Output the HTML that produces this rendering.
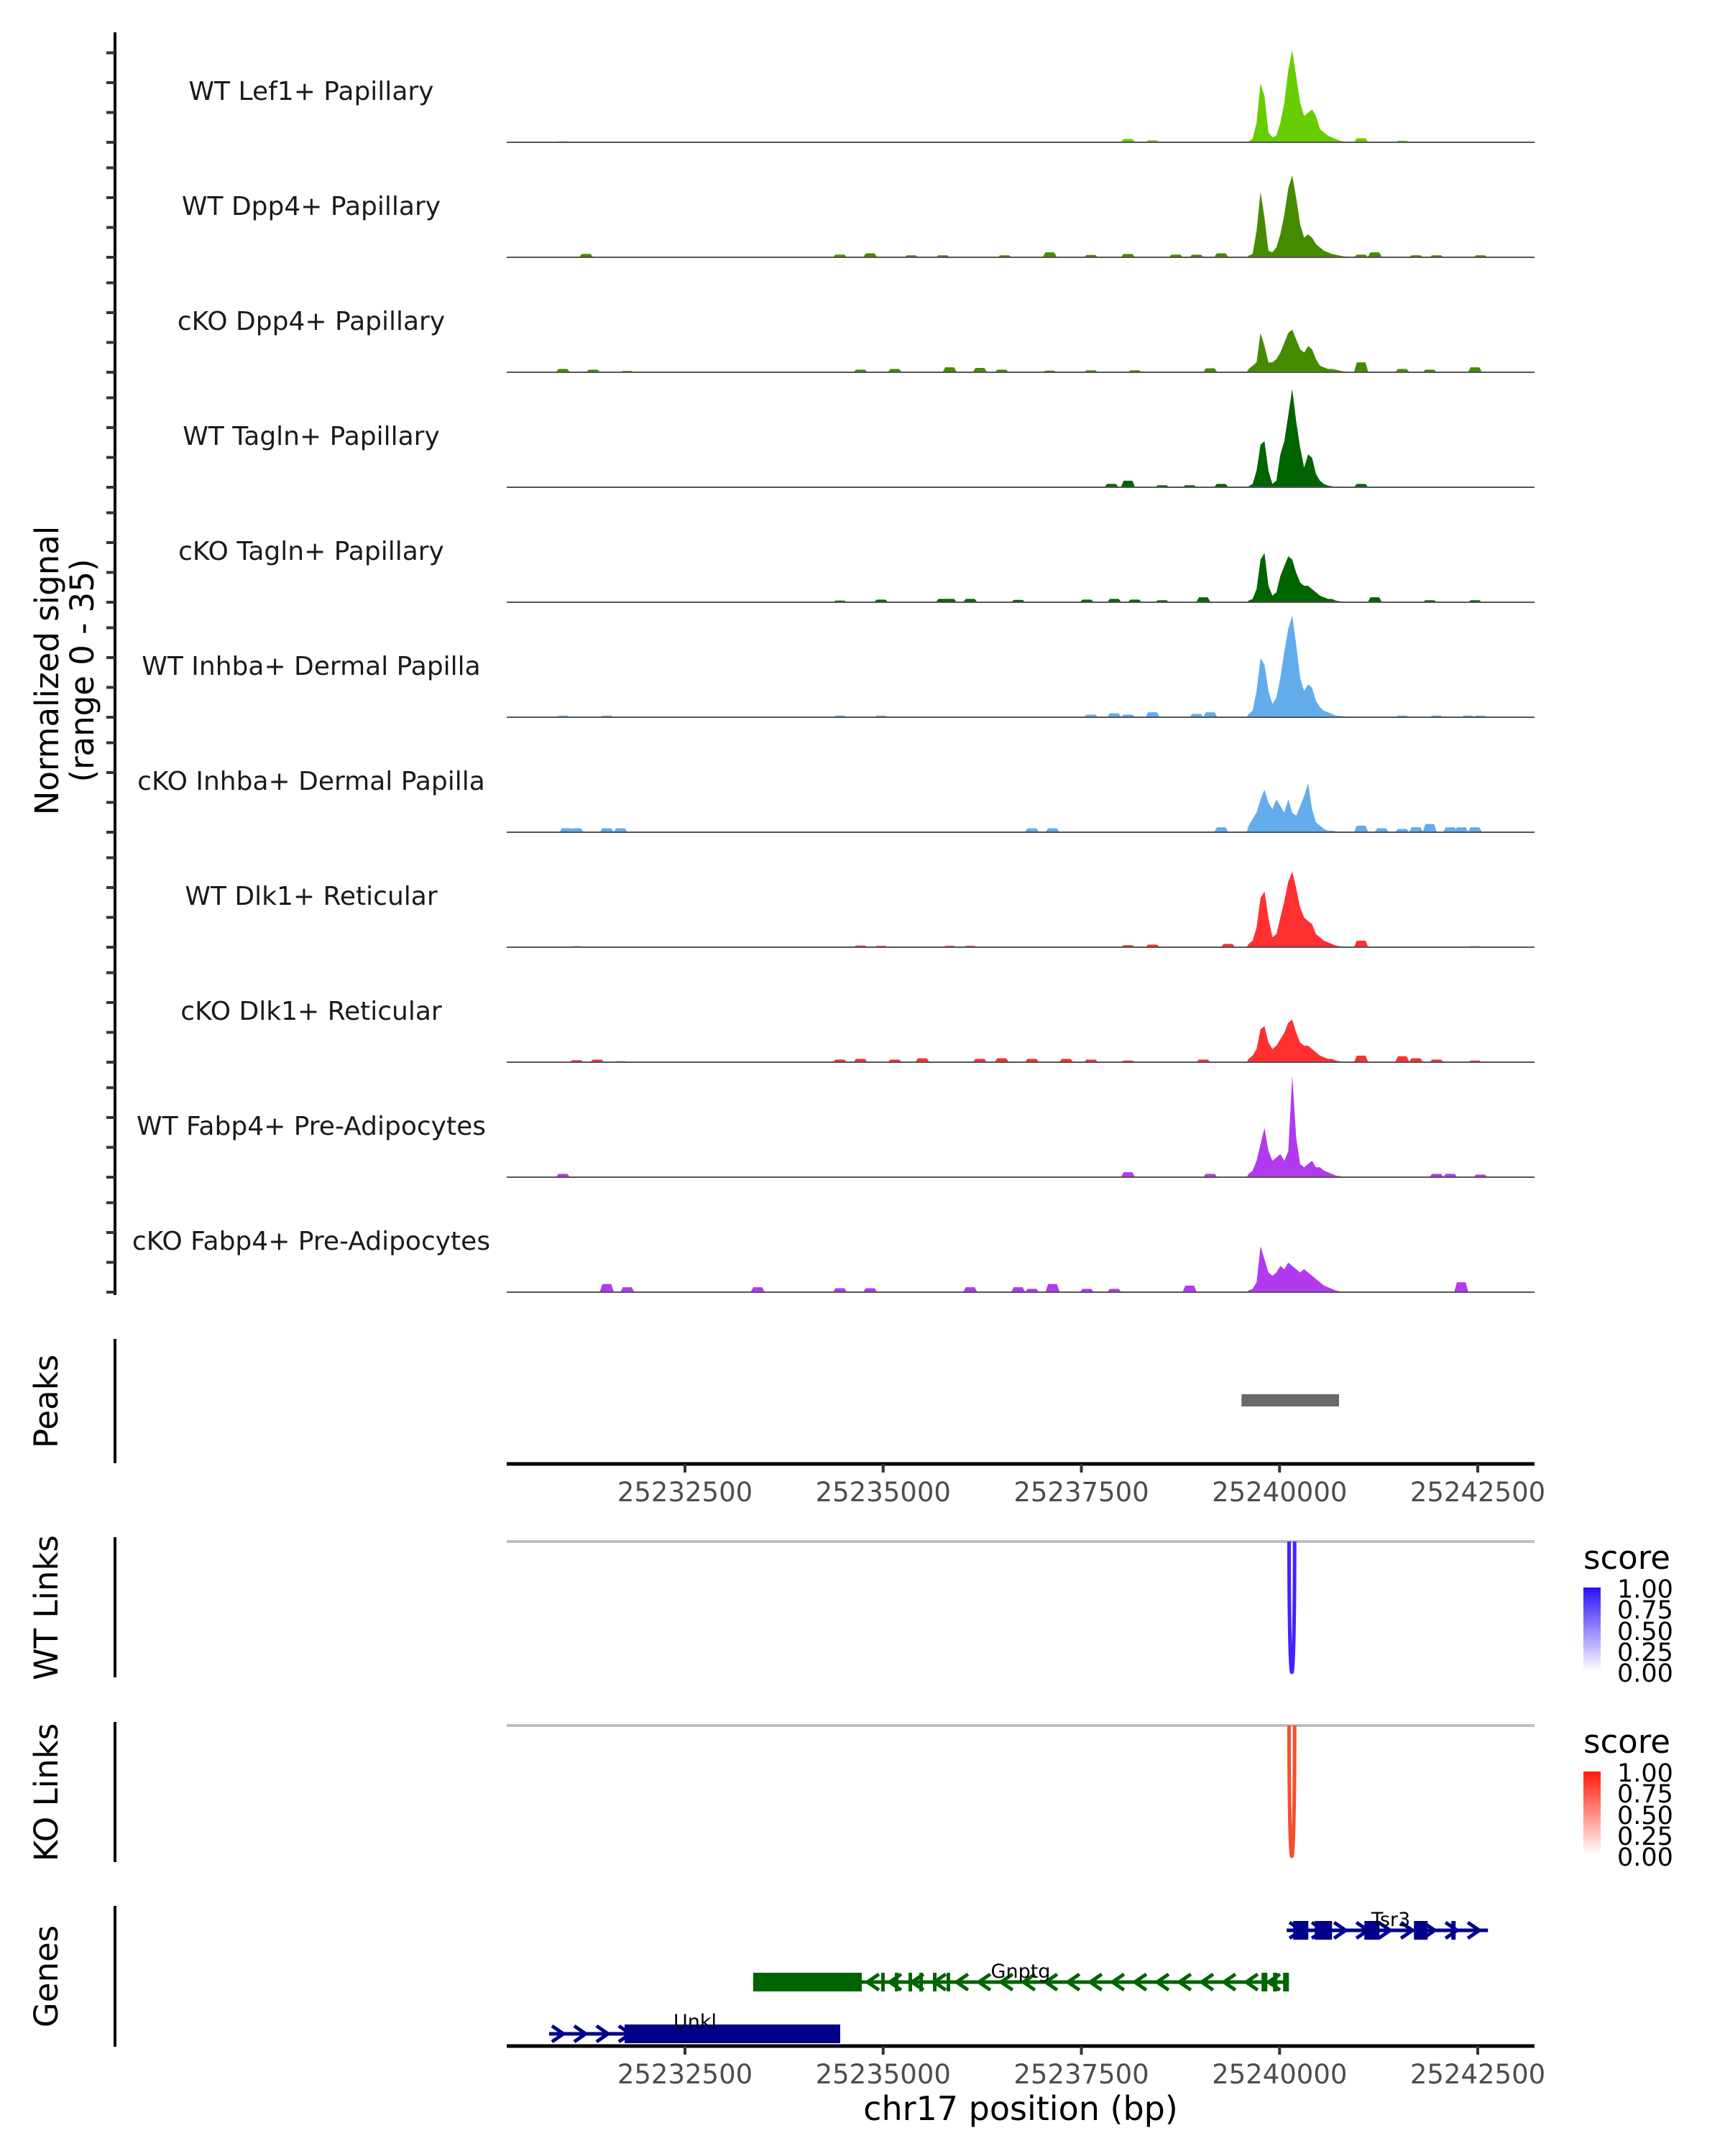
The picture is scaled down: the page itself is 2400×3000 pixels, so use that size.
<!DOCTYPE html>
<html><head><meta charset="utf-8"><style>
html,body{margin:0;padding:0;background:#fff;}
svg{display:block;}
text{font-family:"DejaVu Sans","Liberation Sans",sans-serif;}
</style></head><body>
<svg id="chart" xmlns="http://www.w3.org/2000/svg" width="2400" height="3000" viewBox="0 0 2400 3000">
<defs>
<linearGradient id="gBlue" x1="0" y1="1" x2="0" y2="0"><stop offset="0" stop-color="#ffffff"/><stop offset="1" stop-color="#2a10f5"/></linearGradient>
<linearGradient id="gRed" x1="0" y1="1" x2="0" y2="0"><stop offset="0" stop-color="#ffffff"/><stop offset="1" stop-color="#ff1a08"/></linearGradient>
</defs>
<g id="tracks"></g>
<g id="axes"></g>
<text transform="translate(81,933) rotate(-90)" text-anchor="middle" font-size="45" fill="#000">Normalized signal</text>
<text transform="translate(130,933) rotate(-90)" text-anchor="middle" font-size="45" fill="#000">(range 0 - 35)</text>
<text transform="translate(80,1950) rotate(-90)" text-anchor="middle" font-size="45">Peaks</text>
<text transform="translate(80,2237) rotate(-90)" text-anchor="middle" font-size="45">WT Links</text>
<text transform="translate(80,2494) rotate(-90)" text-anchor="middle" font-size="45">KO Links</text>
<text transform="translate(80,2750) rotate(-90)" text-anchor="middle" font-size="45">Genes</text>
<text x="1420" y="2950" text-anchor="middle" font-size="46">chr17 position (bp)</text>
<g>
<text x="2203" y="2183" font-size="45">score</text>
<rect x="2203" y="2209" width="24" height="116" fill="url(#gBlue)"/>
<text x="2250" y="2223" font-size="35">1.00</text><text x="2250" y="2252" font-size="35">0.75</text><text x="2250" y="2282" font-size="35">0.50</text><text x="2250" y="2311" font-size="35">0.25</text><text x="2250" y="2340" font-size="35">0.00</text>
</g>
<g>
<text x="2203" y="2439" font-size="45">score</text>
<rect x="2203" y="2465" width="24" height="116" fill="url(#gRed)"/>
<text x="2250" y="2479" font-size="35">1.00</text><text x="2250" y="2508" font-size="35">0.75</text><text x="2250" y="2538" font-size="35">0.50</text><text x="2250" y="2567" font-size="35">0.25</text><text x="2250" y="2596" font-size="35">0.00</text>
</g>
</svg>
<script>
const trackNames = ["WT Lef1+ Papillary","WT Dpp4+ Papillary","cKO Dpp4+ Papillary","WT Tagln+ Papillary","cKO Tagln+ Papillary","WT Inhba+ Dermal Papilla","cKO Inhba+ Dermal Papilla","WT Dlk1+ Reticular","cKO Dlk1+ Reticular","WT Fabp4+ Pre-Adipocytes","cKO Fabp4+ Pre-Adipocytes"];
const trackColors = ["#66cd00","#458b00","#458b00","#006400","#006400","#63acec","#63acec","#ff3030","#ff3030","#b23aee","#b23aee"];
const peakStart = 25239610;
const peakBin = 50;
const peakLef1 = [0.3,1,6,18,14,3,1.5,2,6,12,22,28,20,12,8,9,10,8,4,3,2,1.5,1,0.5,0.3,0.2];
const peakDpp4WT = [0.5,1,8,20,12,2,1.5,3,7,13,21,25,18,10,6,7,6,4,3,2,1.5,1,0.8,0.5,0.3,0.2];
const peakDpp4KO = [1,2,3,12,8,3,3,4,6,9,12,13,10,7,6,8,7,4,2,1.5,1,1,0.8,0.5,0.3,0.2];
const peakTaglnWT = [0.3,1,5,13,14,5,1,2,10,14,22,30,20,12,6,10,9,4,2,1,0.5,0.3,0,0,0,0];
const peakTaglnKO = [0.5,1,4,13,15,5,2,3,8,11,14,13,9,6,5,5,4,3,2,1.5,1,1,0.5,0.3,0.2,0.1];
const peakInhbaWT = [1,2,8,18,16,8,4,6,12,20,27,31,22,12,8,10,9,5,3,2,1.5,1,0.5,0.4,0.3,0.2];
const peakInhbaKO = [2,4,6,10,13,9,7,10,8,6,10,6,5,8,11,15,7,3,2,1,0.5,0.5,0.3,0,0,0];
const peakDlk1WT = [1,2,6,15,17,9,3,4,9,14,20,23,18,12,9,8,7,4,3,2,1.5,1,0.5,0.3,0.2,0.1];
const peakDlk1KO = [1,2,4,10,11,6,4,5,7,9,12,13,9,6,5,5,4,3,2,1.5,1,1,0.5,0.3,0.2,0.1];
const peakFabp4WT = [1,2,5,10,15,8,5,6,7,5,8,31,12,4,3,4,5,3,3,2,1.5,1,0.5,0.3,0.2,0.1];
const peakFabp4KO = [0.5,1,3,14,10,6,5,6,8,7,9,8,7,6,7,6,5,4,3,2,1.5,1,0.5,0.3,0,0];
const bumpsLef1 = [[25230960,0.3],[25238088,1],[25238399,0.6],[25241029,1.2],[25241548,0.5]];
const bumpsDpp4WT = [[25231254,1],[25234455,0.8],[25234836,1.2],[25235355,0.6],[25235752,0.6],[25236531,0.6],[25237102,1.5],[25237621,0.7],[25238088,1],[25238693,0.8],[25238953,0.8],[25239264,1.2],[25241029,0.8],[25241202,1.5],[25241721,0.6],[25241980,0.6],[25242534,0.6]];
const bumpsDpp4KO = [[25230960,1],[25231341,0.8],[25231773,0.4],[25234714,0.8],[25235147,1],[25235839,1.5],[25236220,1.3],[25236496,0.8],[25237102,0.5],[25237621,0.6],[25238174,0.6],[25239126,1.2],[25241029,3],[25241548,1],[25241894,0.8],[25242465,1.5]];
const bumpsTaglnWT = [[25237880,1],[25238088,2],[25238520,0.6],[25238866,0.6],[25239264,1],[25241029,1]];
const bumpsTaglnKO = [[25234455,0.5],[25234974,0.8],[25235752,1],[25235839,1],[25236098,1],[25236704,0.7],[25237569,0.8],[25237915,1],[25238174,0.8],[25238520,0.6],[25239039,1.5],[25241202,1.5],[25241894,0.6],[25242465,0.6]];
const bumpsInhbaWT = [[25230960,0.5],[25231514,0.5],[25234455,0.5],[25234974,0.5],[25237621,0.8],[25237915,1.2],[25238088,0.8],[25238399,1.5],[25238953,1],[25239126,1.5],[25241548,0.5],[25241980,0.5],[25242378,0.5],[25242534,0.5]];
const bumpsInhbaKO = [[25231005,1.2],[25231133,1.2],[25231514,1.2],[25231687,1.2],[25236877,1.2],[25237136,1.2],[25239264,1.5],[25241029,2],[25241288,1.2],[25241548,1],[25241721,1.5],[25241894,2.5],[25242153,1.5],[25242292,1.5],[25242465,1.5]];
const bumpsDlk1WT = [[25231133,0.3],[25234714,0.5],[25234974,0.4],[25235839,0.4],[25236098,0.4],[25238088,0.6],[25238399,0.8],[25239351,1],[25241029,2],[25242465,0.3]];
const bumpsDlk1KO = [[25231133,0.6],[25231393,0.8],[25231687,0.3],[25234455,0.8],[25234714,1],[25235147,0.8],[25235494,1.2],[25236220,1],[25236496,1.2],[25236877,1],[25237309,1],[25237621,0.8],[25238088,0.5],[25239039,0.8],[25241029,2],[25241548,1.8],[25241721,1.2],[25241980,0.8],[25242465,0.5]];
const bumpsFabp4WT = [[25230960,1],[25238088,1.5],[25239126,1],[25241980,1],[25242153,1],[25242534,0.8]];
const bumpsFabp4KO = [[25231514,2.5],[25231773,1.5],[25233417,1.5],[25234455,1.2],[25234836,1.2],[25236098,1.5],[25236704,1.5],[25236877,1],[25237136,2.5],[25237569,1],[25237915,1],[25238866,2],[25242292,3]];
const xTicks = [25232500,25235000,25237500,25240000,25242500];
const peakRegions = [[25239520,25240750]];
const wtLinks = [[25240120,25240190,1.0]];
const koLinks = [[25240120,25240190,1.0]];
const tsr3Exons = [[25240172,25240363],[25240444,25240662],[25241070,25241260],[25241695,25241868],[25242167,25242221]];
const tsr3Span = [25240090,25242629];
const gnptgExons = [[25233360,25234730],[25234975,25235020],[25235147,25235192],[25235320,25235365],[25235456,25235501],[25235628,25235673],[25235800,25235845],[25239773,25239846],[25239918,25239973],[25240045,25240118]];
const gnptgSpan = [25233360,25240118];
const unklExons = [[25231738,25234458]];
const unklSpan = [25230786,25234458];

const peaks = [peakLef1,peakDpp4WT,peakDpp4KO,peakTaglnWT,peakTaglnKO,peakInhbaWT,peakInhbaKO,peakDlk1WT,peakDlk1KO,peakFabp4WT,peakFabp4KO];
const bumps = [bumpsLef1,bumpsDpp4WT,bumpsDpp4KO,bumpsTaglnWT,bumpsTaglnKO,bumpsInhbaWT,bumpsInhbaKO,bumpsDlk1WT,bumpsDlk1KO,bumpsFabp4WT,bumpsFabp4KO];

const NS='http://www.w3.org/2000/svg';
const X0=705, X1=2135;
function x(bp){return 953+(bp-25232500)/2500*275.75;}
const unit=4.57;
function base(i){return 198+i*160;}
function y(i,v){return base(i)-v*unit;}
function mk(tag,attrs,parent){const e=document.createElementNS(NS,tag);for(const k in attrs)e.setAttribute(k,attrs[k]);parent.appendChild(e);return e;}
const T=document.getElementById('tracks'), A=document.getElementById('axes');

trackNames.forEach((name,i)=>{
  const g=mk('g',{},T);
  
  
  const lab=mk('text',{x:433,y:base(i)-59,'text-anchor':'middle','font-size':36,fill:'#1a1a1a'},g);
  lab.textContent=name;
  
  
  bumps[i].forEach(b=>{
    const p=mk('path',{d:`M${x(b[0]-90)},${base(i)} L${x(b[0]-55)},${y(i,b[1])} L${x(b[0]+55)},${y(i,b[1])} L${x(b[0]+90)},${base(i)} Z`,fill:trackColors[i]},g);
    
    
  });
  let d=`M${x(peakStart-25)},${base(i)}`;
  peaks[i].forEach((v,k)=>{d+=` L${x(peakStart+k*peakBin)},${y(i,v)}`;});
  d+=` L${x(peakStart+(peaks[i].length-1)*peakBin+25)},${base(i)} Z`;
  const pk=mk('path',{d:d,fill:trackColors[i]},g);
  
  
  const bl=mk('line',{x1:X0,x2:X1,y1:base(i),y2:base(i),stroke:'#555',"stroke-width":2},g);
  
  
});

mk('line',{x1:160,x2:160,y1:45,y2:1802,stroke:'#000','stroke-width':4},A);
for(let i=0;i<trackNames.length;i++){for(let k=0;k<4;k++){const yy=base(i)-k*41.5;mk('line',{x1:148,x2:160,y1:yy,y2:yy,stroke:'#333','stroke-width':4},A);}}
[[1863,2036],[2139,2334],[2396,2591],[2652,2848]].forEach(s=>mk('line',{x1:160,x2:160,y1:s[0],y2:s[1],stroke:'#000','stroke-width':4},A));

peakRegions.forEach(r=>{const e=mk('rect',{x:x(r[0]),y:1940,width:x(r[1])-x(r[0]),height:17,fill:'#696969'},A);
  
  });

[2037,2847].forEach((ay,j)=>{
  mk('line',{x1:X0,x2:X1,y1:ay,y2:ay,stroke:'#000','stroke-width':5},A);
  xTicks.forEach(t=>{
    mk('line',{x1:x(t),x2:x(t),y1:ay,y2:ay+12,stroke:'#333','stroke-width':4},A);
    const tl=mk('text',{x:x(t),y:ay+52,'text-anchor':'middle','font-size':37,fill:'#4d4d4d'},A);
    tl.textContent=t;
    
    
  });
});

function drawLinks(links,top,bottom,color){
  mk('line',{x1:X0,x2:X1,y1:top,y2:top,stroke:'#bebebe','stroke-width':4},A);
  links.forEach(l=>{
    const xa=x(l[0]),xb=x(l[1]),yb=top+(bottom-top)*l[2];
    const cy=top+(yb-top)*4/3;
    const p=mk('path',{d:`M${xa},${top} C${xa},${cy} ${xb},${cy} ${xb},${top}`,fill:'none',stroke:color,'stroke-width':5},A);
    
    
  });
}
drawLinks(wtLinks,2145,2327,'#4422ff');
drawLinks(koLinks,2401,2583,'#f5502e');

function drawGene(name,span,exons,yy,color,dir,lx,ly){
  const g=mk('g',{},A);
  
  
  mk('line',{x1:x(span[0]),x2:x(span[1]),y1:yy,y2:yy,stroke:color,'stroke-width':5},g);
  for(let cx=x(span[0])+12;cx<x(span[1])-4;cx+=31){
    const s=dir*8;
    mk('path',{d:`M${cx-s},${yy-11} L${cx+s},${yy} L${cx-s},${yy+11}`,fill:'none',stroke:color,'stroke-width':5},g);
  }
  exons.forEach(e=>mk('rect',{x:x(e[0]),y:yy-13,width:Math.max(4,x(e[1])-x(e[0])),height:26,fill:color},g));
  const t=mk('text',{x:lx,y:ly,'text-anchor':'middle','font-size':27,fill:'#000'},g);
  t.textContent=name;
}
drawGene('Tsr3',tsr3Span,tsr3Exons,2686,'#00008b',1,1935,2680);
drawGene('Gnptg',gnptgSpan,gnptgExons,2758,'#006400',-1,1420,2752);
drawGene('Unkl',unklSpan,unklExons,2830,'#00008b',1,967,2822);
</script>
</body></html>
